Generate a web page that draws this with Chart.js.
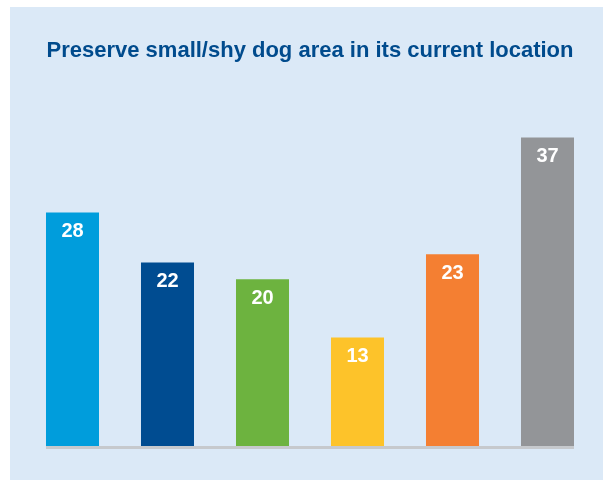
<!DOCTYPE html>
<html>
<head>
<meta charset="utf-8">
<script src="https://cdn.jsdelivr.net/npm/chart.js@4"></script>
<style>
  body { margin: 0; background: #ffffff; }
  #panel {
    position: absolute; left: 10px; top: 7px;
    width: 593px; height: 473px;
    background: #dbe9f7;
  }
</style>
</head>
<body>
<div id="panel"><canvas id="dogChart"></canvas></div>
<script>
const categories = ['Option 1', 'Option 2', 'Option 3', 'Option 4', 'Option 5', 'Option 6'];
const percentValues = [28, 22, 20, 13, 23, 37];
const barColours = ['#009ddc', '#004c91', '#6db33f', '#fdc32a', '#f47f32', '#939598'];
const chartTitle = 'Preserve small/shy dog area in its current location';

// Value labels inside the top of each bar
const barLabelPlugin = {
    id: 'barLabels',
    afterDatasetsDraw(chart) {
        const ctx = chart.ctx;
        const meta = chart.getDatasetMeta(0);
        ctx.save();
        ctx.fillStyle = '#ffffff';
        ctx.font = 'bold 20px "Liberation Sans", Arial, sans-serif';
        ctx.textAlign = 'center';
        ctx.textBaseline = 'middle';
        meta.data.forEach((bar, i) => {
            ctx.fillText(String(percentValues[i]), bar.x, bar.y + 19);
        });
        ctx.restore();
    }
};

// Grey base line running under the bars
const baseLinePlugin = {
    id: 'baseLine',
    afterDatasetsDraw(chart) {
        const ctx = chart.ctx;
        const meta = chart.getDatasetMeta(0);
        const first = meta.data[0];
        const last = meta.data[meta.data.length - 1];
        const y0 = chart.scales.y.getPixelForValue(0);
        ctx.save();
        ctx.strokeStyle = '#c6c9cd';
        ctx.lineWidth = 3;
        ctx.beginPath();
        ctx.moveTo(first.x - first.width / 2, y0 + 1.5);
        ctx.lineTo(last.x + last.width / 2, y0 + 1.5);
        ctx.stroke();
        ctx.restore();
    }
};

new Chart(document.getElementById('dogChart').getContext('2d'), {
    type: 'bar',
    data: {
        labels: categories,
        datasets: [{
            data: percentValues,
            backgroundColor: barColours,
            borderWidth: 0,
            barPercentage: 0.558,
            categoryPercentage: 1.0
        }]
    },
    options: {
        responsive: true,
        maintainAspectRatio: false,
        animation: false,
        layout: { padding: { left: 15, right: 8, top: 0, bottom: 34 } },
        plugins: {
            legend: { display: false },
            tooltip: { enabled: false },
            title: {
                display: true,
                text: chartTitle,
                color: '#004b8d',
                font: { family: '"Liberation Sans", Arial, sans-serif', size: 22, weight: 'bold', lineHeight: 1.2 },
                padding: { top: 31, bottom: 48 }
            }
        },
        scales: {
            x: { display: false, grid: { display: false } },
            y: { display: false, min: 0, max: 40, grid: { display: false } }
        }
    },
    plugins: [baseLinePlugin, barLabelPlugin]
});
</script>
</body>
</html>
